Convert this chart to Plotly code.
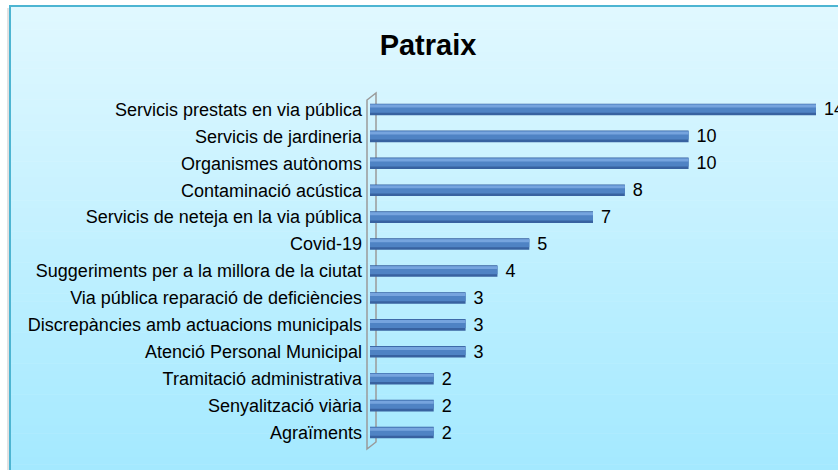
import plotly.graph_objects as go

# ---- data (top to bottom as shown) ----
categories = [
    "Servicis prestats en via pública",
    "Servicis de jardineria",
    "Organismes autònoms",
    "Contaminació acústica",
    "Servicis de neteja en la via pública",
    "Covid-19",
    "Suggeriments per a la millora de la ciutat",
    "Via pública reparació de deficiències",
    "Discrepàncies amb actuacions municipals",
    "Atenció Personal Municipal",
    "Tramitació administrativa",
    "Senyalització viària",
    "Agraïments",
]
values = [14, 10, 10, 8, 7, 5, 4, 3, 3, 3, 2, 2, 2]
title_text = "Patraix"

# plotted bottom-to-top
cats = categories[::-1]
vals = values[::-1]

W, H = 838, 470
ML, MR, MT, MB = 370, 6, 96, 24
L, R, T, B = ML, W - MR, MT, H - MB

def px(x):
    return (x - L) / (R - L)

def py(y):
    return (B - y) / (B - T)

FONT = "Liberation Sans, Arial, sans-serif"

fig = go.Figure()
bar_w = 0.43
layers = [
    (bar_w, -bar_w / 2, "#3862A0"),
    (0.31, -0.12, "#4F83C4"),
    (0.11, 0.07, "#76A4DE"),
]
for i, (w, off, col) in enumerate(layers):
    fig.add_trace(go.Bar(
        x=vals, y=cats, orientation="h",
        width=w, offset=off,
        marker=dict(color=col, line=dict(width=0)),
        text=["\u00a0" + str(v) for v in vals] if i == 0 else None,
        textposition="outside" if i == 0 else "none",
        constraintext="none",
        textfont=dict(family=FONT, size=18, color="#000000"),
        cliponaxis=False,
        hoverinfo="skip",
        showlegend=False,
    ))

shapes = []
# gradient background inside frame
top_c = (224, 248, 255)
bot_c = (164, 233, 255)
fx0, fy0 = 10, 6
N = 60
for k in range(N):
    y0 = fy0 + (H + 2 - fy0) * k / N
    y1 = fy0 + (H + 2 - fy0) * (k + 1) / N + 0.5
    t = k / (N - 1)
    c = tuple(round(a + (b - a) * t) for a, b in zip(top_c, bot_c))
    shapes.append(dict(type="rect", xref="paper", yref="paper",
                       x0=px(fx0), x1=px(W + 5), y0=py(y1), y1=py(y0),
                       fillcolor="rgb(%d,%d,%d)" % c, line=dict(width=0),
                       layer="below"))
# faint shadow left of frame
shapes.append(dict(type="line", xref="paper", yref="paper",
                   x0=px(8), x1=px(8), y0=py(H + 5), y1=py(fy0 + 2),
                   line=dict(color="#E2E2E2", width=2), layer="below"))
# frame border
shapes.append(dict(type="rect", xref="paper", yref="paper",
                   x0=px(fx0), x1=px(W + 10), y0=py(H + 10), y1=py(fy0),
                   fillcolor="rgba(0,0,0,0)",
                   line=dict(color="#4DB5D2", width=2), layer="below"))
# 3D wall
path = "M {} {} L {} {} L {} {} L {} {} Z".format(
    px(367), py(100), px(376), py(93), px(376), py(442), px(367), py(449))
shapes.append(dict(type="path", xref="paper", yref="paper", path=path,
                   fillcolor="rgba(0,0,0,0)",
                   line=dict(color="#9A9A9A", width=1.5), layer="below"))

fig.update_layout(
    width=W, height=H,
    margin=dict(l=ML, r=MR, t=MT, b=MB),
    paper_bgcolor="#FFFFFF",
    plot_bgcolor="rgba(0,0,0,0)",
    barmode="overlay",
    shapes=shapes,
    title=dict(text="<b>%s</b>" % title_text, x=428 / W, y=1 - 45 / H,
               xanchor="center", yanchor="middle",
               font=dict(family=FONT, size=29, color="#000000")),
    xaxis=dict(range=[0, (R - L) / ((816 - 370) / 14)], visible=False,
               fixedrange=True),
    yaxis=dict(type="category", categoryorder="array", categoryarray=cats,
               range=[-0.5, len(cats) - 0.5], showgrid=False, zeroline=False,
               showline=False, ticks="", ticklabelstandoff=7,
               automargin=False,
               tickfont=dict(family=FONT, size=18, color="#000000"),
               fixedrange=True),
    showlegend=False,
)

fig.write_html("out.html",
               config={"displayModeBar": False, "staticPlot": True},
               post_script="document.body.style.margin='0px';"
                           "document.body.style.overflow='hidden';")
